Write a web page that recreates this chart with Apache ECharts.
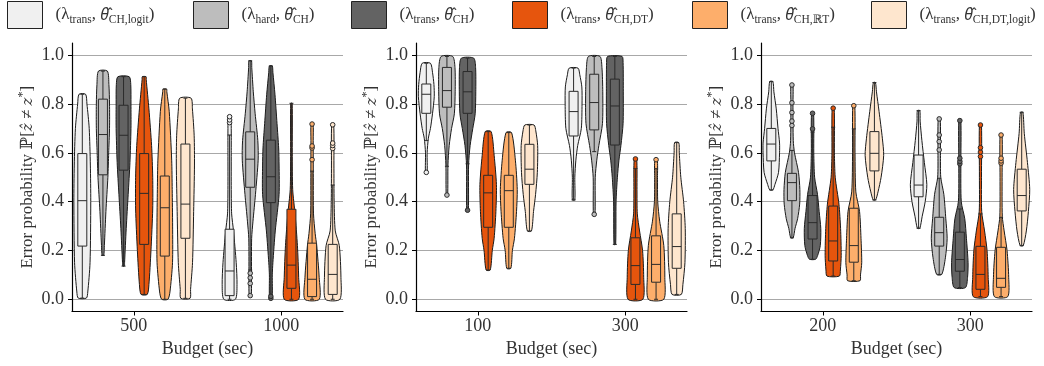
<!DOCTYPE html>
<html>
<head>
<meta charset="utf-8">
<script src="https://cdn.jsdelivr.net/npm/echarts@6/dist/echarts.min.js"></script>
<style>html,body{margin:0;padding:0;background:#fff}#chart{width:1044px;height:366px}</style>
</head>
<body>
<div id="chart"></div>
<script>
// methods, legend order
var names = ['trans|CH,logit', 'hard|CH', 'trans|CH', 'trans|CH,DT', 'trans|CH,ℝT', 'trans|CH,DT,logit'];
var colors = ['#f0f0f0', '#bdbdbd', '#636363', '#e6550d', '#fdae6b', '#fee6ce'];

// panel 1 : budgets 500 / 1000
var ticks1 = ['500', '1000'];
// [whisker low, q1, median, q3, whisker high]
var stats1 = [
  [[0.005,0.218,0.404,0.597,0.84],[0.18,0.51,0.675,0.82,0.935],[0.136,0.529,0.672,0.795,0.912],
   [0.02,0.225,0.434,0.597,0.912],[0.0,0.177,0.375,0.505,0.861],[0.004,0.25,0.39,0.636,0.824]],
  [[0.0,0.015,0.116,0.287,0.673],[0.12,0.459,0.574,0.686,0.977],[0.02,0.396,0.502,0.652,0.956],
   [0.0,0.045,0.14,0.369,0.803],[0.0,0.011,0.082,0.23,0.525],[0.0,0.02,0.102,0.225,0.468]]
];
var outliers1 = [
  [[],[],[],[],[],[]],
  [[0.724,0.735,0.748],[0.015,0.065,0.088,0.107],[0.004,0.012],[],[0.572,0.62,0.628,0.718],[0.618,0.63,0.64,0.715]]
];
// violin outline: [value, relative half width]
var shapes1 = [
  [[[0.005,0.4],[0.03,0.53],[0.15,0.75],[0.4,0.82],[0.55,0.78],[0.7,0.67],[0.8,0.45],[0.84,0.32]],
   [[0.18,0.08],[0.22,0.14],[0.36,0.29],[0.5,0.48],[0.6,0.56],[0.7,0.64],[0.8,0.64],[0.88,0.58],[0.935,0.43]],
   [[0.136,0.08],[0.15,0.1],[0.29,0.26],[0.43,0.45],[0.56,0.62],[0.7,0.72],[0.8,0.72],[0.88,0.7],[0.912,0.55]],
   [[0.02,0.3],[0.06,0.46],[0.2,0.66],[0.37,0.83],[0.5,0.83],[0.63,0.72],[0.78,0.46],[0.9,0.2],[0.912,0.18]],
   [[0.0,0.3],[0.03,0.5],[0.15,0.75],[0.3,0.76],[0.45,0.72],[0.57,0.67],[0.77,0.43],[0.85,0.2],[0.861,0.18]],
   [[0.004,0.45],[0.04,0.5],[0.15,0.69],[0.36,0.8],[0.55,0.88],[0.67,0.85],[0.78,0.68],[0.824,0.55]]],
  [[[0.0,0.56],[0.06,0.72],[0.15,0.64],[0.28,0.38],[0.35,0.2],[0.45,0.16],[0.6,0.16],[0.7,0.16],[0.75,0.12]],
   [[0.015,0.1],[0.1,0.12],[0.25,0.14],[0.32,0.27],[0.43,0.51],[0.57,0.77],[0.65,0.74],[0.76,0.48],[0.85,0.3],[0.95,0.15],[0.977,0.12]],
   [[0.004,0.12],[0.1,0.14],[0.15,0.2],[0.28,0.43],[0.43,0.8],[0.55,0.8],[0.62,0.76],[0.72,0.6],[0.84,0.4],[0.93,0.2],[0.956,0.14]],
   [[0.0,0.7],[0.09,0.7],[0.22,0.58],[0.35,0.35],[0.45,0.12],[0.6,0.08],[0.803,0.07]],
   [[0.0,0.7],[0.09,0.69],[0.22,0.45],[0.27,0.3],[0.35,0.14],[0.5,0.12],[0.65,0.11],[0.718,0.1]],
   [[0.0,0.7],[0.09,0.8],[0.22,0.64],[0.28,0.25],[0.4,0.14],[0.55,0.12],[0.715,0.1]]]
];

// panel 2 : budgets 100 / 300
var ticks2 = ['100', '300'];
var stats2 = [
  [[0.65,0.762,0.84,0.882,0.967],[0.545,0.787,0.855,0.95,0.995],[0.555,0.762,0.85,0.933,0.988],
   [0.12,0.295,0.436,0.508,0.687],[0.127,0.295,0.445,0.508,0.683],[0.28,0.471,0.533,0.635,0.714]],
  [[0.407,0.669,0.769,0.852,0.947],[0.605,0.694,0.806,0.922,0.995],[0.225,0.632,0.792,0.902,0.995],
   [0.0,0.061,0.138,0.252,0.535],[0.0,0.07,0.143,0.26,0.535],[0.02,0.127,0.216,0.35,0.642]]
];
var outliers2 = [
  [[0.52],[0.427],[0.365],[],[],[]],
  [[],[0.348],[],[0.575],[0.572],[]]
];
var shapes2 = [
  [[[0.52,0.08],[0.6,0.08],[0.66,0.2],[0.7,0.4],[0.76,0.6],[0.83,0.77],[0.88,0.74],[0.93,0.6],[0.967,0.4]],
   [[0.427,0.07],[0.55,0.1],[0.63,0.22],[0.7,0.45],[0.76,0.72],[0.85,0.8],[0.95,0.78],[0.995,0.56]],
   [[0.365,0.08],[0.55,0.1],[0.63,0.25],[0.7,0.51],[0.76,0.74],[0.85,0.8],[0.95,0.78],[0.988,0.6]],
   [[0.12,0.2],[0.2,0.4],[0.25,0.58],[0.36,0.75],[0.47,0.8],[0.59,0.58],[0.687,0.29]],
   [[0.127,0.2],[0.2,0.35],[0.25,0.55],[0.36,0.75],[0.45,0.82],[0.57,0.64],[0.683,0.27]],
   [[0.28,0.2],[0.36,0.4],[0.43,0.6],[0.52,0.77],[0.63,0.8],[0.69,0.62],[0.714,0.45]]],
  [[[0.407,0.12],[0.5,0.12],[0.57,0.22],[0.63,0.4],[0.7,0.75],[0.8,0.82],[0.87,0.8],[0.92,0.6],[0.947,0.43]],
   [[0.348,0.08],[0.5,0.1],[0.57,0.25],[0.63,0.45],[0.72,0.8],[0.85,0.83],[0.95,0.75],[0.995,0.56]],
   [[0.225,0.08],[0.4,0.12],[0.5,0.25],[0.57,0.4],[0.63,0.59],[0.72,0.8],[0.85,0.82],[0.97,0.8],[0.995,0.7]],
   [[0.0,0.72],[0.09,0.8],[0.2,0.69],[0.28,0.4],[0.35,0.18],[0.45,0.15],[0.575,0.12]],
   [[0.0,0.75],[0.09,0.85],[0.22,0.75],[0.32,0.35],[0.4,0.16],[0.5,0.14],[0.572,0.12]],
   [[0.02,0.45],[0.06,0.6],[0.15,0.8],[0.29,0.83],[0.4,0.67],[0.5,0.4],[0.6,0.25],[0.642,0.2]]]
];

// panel 3 : budgets 200 / 300
var ticks3 = ['200', '300'];
var stats3 = [
  [[0.448,0.567,0.636,0.7,0.892],[0.252,0.404,0.478,0.516,0.61],[0.164,0.247,0.314,0.425,0.685],
   [0.095,0.157,0.239,0.382,0.705],[0.076,0.152,0.22,0.373,0.698],[0.407,0.526,0.598,0.687,0.888]],
  [[0.291,0.42,0.468,0.591,0.773],[0.102,0.218,0.273,0.336,0.496],[0.048,0.115,0.163,0.275,0.37],
   [0.011,0.041,0.102,0.217,0.35],[0.011,0.049,0.086,0.213,0.336],[0.22,0.362,0.425,0.533,0.766]]
];
var outliers3 = [
  [[],[0.712,0.73,0.765,0.805,0.878],[0.698,0.762],[0.783],[0.793],[]],
  [[],[0.612,0.646,0.673,0.739],[0.555,0.565,0.578,0.732],[0.585,0.603,0.621,0.714],[0.558,0.567,0.578,0.673],[]]
];
var shapes3 = [
  [[[0.448,0.15],[0.47,0.35],[0.52,0.7],[0.6,0.8],[0.64,0.8],[0.7,0.65],[0.78,0.48],[0.85,0.25],[0.892,0.15]],
   [[0.252,0.12],[0.29,0.3],[0.33,0.55],[0.39,0.75],[0.45,0.77],[0.52,0.64],[0.6,0.25],[0.65,0.13],[0.8,0.1],[0.878,0.1]],
   [[0.164,0.3],[0.18,0.5],[0.22,0.75],[0.29,0.8],[0.36,0.64],[0.43,0.48],[0.5,0.2],[0.6,0.12],[0.762,0.1]],
   [[0.095,0.6],[0.12,0.7],[0.18,0.78],[0.29,0.72],[0.39,0.56],[0.5,0.2],[0.6,0.12],[0.783,0.1]],
   [[0.076,0.6],[0.1,0.65],[0.15,0.77],[0.25,0.7],[0.36,0.56],[0.44,0.2],[0.6,0.12],[0.793,0.1]],
   [[0.407,0.12],[0.44,0.35],[0.5,0.65],[0.59,0.9],[0.66,0.77],[0.77,0.45],[0.85,0.2],[0.888,0.1]]],
  [[[0.291,0.12],[0.34,0.35],[0.4,0.64],[0.47,0.8],[0.56,0.56],[0.65,0.32],[0.73,0.15],[0.773,0.12]],
   [[0.102,0.25],[0.17,0.6],[0.25,0.77],[0.33,0.64],[0.43,0.45],[0.5,0.15],[0.6,0.12],[0.739,0.1]],
   [[0.048,0.55],[0.09,0.75],[0.15,0.8],[0.25,0.64],[0.33,0.48],[0.4,0.14],[0.55,0.1],[0.732,0.1]],
   [[0.011,0.7],[0.09,0.75],[0.2,0.64],[0.28,0.4],[0.36,0.12],[0.5,0.1],[0.714,0.1]],
   [[0.011,0.65],[0.09,0.74],[0.2,0.58],[0.28,0.3],[0.34,0.12],[0.5,0.1],[0.673,0.1]],
   [[0.22,0.15],[0.28,0.45],[0.36,0.65],[0.45,0.78],[0.56,0.56],[0.68,0.25],[0.766,0.12]]]
];

var yTicks = [0, 0.2, 0.4, 0.6, 0.8, 1.0];

var panels = [
  {ticks: ticks1, stats: stats1, outs: outliers1, shapes: shapes1},
  {ticks: ticks2, stats: stats2, outs: outliers2, shapes: shapes2},
  {ticks: ticks3, stats: stats3, outs: outliers3, shapes: shapes3}
];

var FONT = '"Liberation Serif", "DejaVu Serif", serif';
var MATH = '"Noto Sans", "DejaVu Serif", serif';
var TXT = '#333';
var SLOT = 0.14;      // dodge step between violins (category units)
var HALF = 0.07;      // half width for relative width 1
var gridLeft = [72, 416, 761];
var legLeft = [7, 193, 351, 512, 692, 871];

var myChart = echarts.init(document.getElementById('chart'));

function makeRender(pn, m) {
  var off = (m - 2.5) * SLOT;
  return function (params, api) {
    var g = params.dataIndex;
    var cx = api.value(0) + off;
    var st = pn.stats[g][m], sh = pn.shapes[g][m], ou = pn.outs[g][m];
    var right = [], left = [];
    sh.forEach(function (p) {
      right.push(api.coord([cx + p[1] * HALF, p[0]]));
      left.unshift(api.coord([cx - p[1] * HALF, p[0]]));
    });
    var c = api.coord([cx, 0])[0];
    var y = function (v) { return api.coord([cx, v])[1]; };
    var ln = {stroke: '#2a2a2a', lineWidth: 1};
    var kids = [
      {type: 'polygon', shape: {points: right.concat(left), smooth: 0.25},
        style: {fill: colors[m], stroke: '#1a1a1a', lineWidth: 1}},
      {type: 'line', shape: {x1: c, y1: y(st[0]), x2: c, y2: y(st[1])}, style: ln},
      {type: 'line', shape: {x1: c, y1: y(st[3]), x2: c, y2: y(st[4])}, style: ln},
      {type: 'line', shape: {x1: c - 2, y1: y(st[0]), x2: c + 2, y2: y(st[0])}, style: ln},
      {type: 'line', shape: {x1: c - 2, y1: y(st[4]), x2: c + 2, y2: y(st[4])}, style: ln},
      {type: 'rect', shape: {x: c - 4.5, y: y(st[3]), width: 9, height: y(st[1]) - y(st[3])},
        style: {fill: colors[m], stroke: '#2a2a2a', lineWidth: 1}},
      {type: 'line', shape: {x1: c - 4.5, y1: y(st[2]), x2: c + 4.5, y2: y(st[2])}, style: ln}
    ];
    ou.forEach(function (v) {
      kids.push({type: 'circle', shape: {cx: c, cy: y(v), r: 2.3},
        style: {fill: colors[m], stroke: '#2a2a2a', lineWidth: 1}});
    });
    return {type: 'group', children: kids};
  };
}

function legendText(name) {
  var s = name.split('|');
  return '{p|(λ}{s|' + s[0] + '}{a|, }{t|θ̂}{s|' + s[1] + '}{a|)}';
}

var option = {
  animation: false,
  color: colors,
  grid: gridLeft.map(function (l) { return {left: l, top: 43, width: 271, height: 268.5}; }),
  legend: names.map(function (n, i) {
    return {
      left: legLeft[i], top: 1, padding: 0, itemWidth: 35, itemHeight: 27, icon: 'rect',
      data: [n], selectedMode: false,
      itemStyle: {borderColor: '#222', borderWidth: 1},
      formatter: legendText,
      textStyle: {
        color: TXT, fontFamily: FONT,
        rich: {
          p: {fontSize: 17, fontFamily: FONT, color: TXT, lineHeight: 22, padding: [0, 0, 0, 8]},
          a: {fontSize: 17, fontFamily: FONT, color: TXT, lineHeight: 22},
          t: {fontSize: 16, fontFamily: MATH, fontStyle: 'italic', color: TXT, lineHeight: 22},
          s: {fontSize: 11.5, fontFamily: FONT, color: TXT, lineHeight: 13, verticalAlign: 'bottom'}
        }
      }
    };
  }),
  xAxis: panels.map(function (pn, i) {
    return {
      type: 'value', gridIndex: i, min: -0.42, max: 1.42,
      axisLine: {onZero: false, lineStyle: {color: '#000', width: 1.2}},
      axisTick: {customValues: [0, 1], length: 4, lineStyle: {color: '#000'}},
      axisLabel: {customValues: [0, 1], formatter: function (v) { return pn.ticks[Math.round(v)]; },
        fontFamily: FONT, fontSize: 18, color: TXT, margin: 6},
      splitLine: {show: false},
      name: 'Budget (sec)', nameLocation: 'middle', nameGap: 25,
      nameTextStyle: {fontFamily: FONT, fontSize: 18, color: TXT}
    };
  }),
  yAxis: panels.map(function (pn, i) {
    return {
      type: 'value', gridIndex: i, min: -0.05, max: 1.05,
      axisLine: {show: true, onZero: false, lineStyle: {color: '#000', width: 1.2}},
      axisTick: {show: true, customValues: yTicks, length: 4, lineStyle: {color: '#000'}},
      axisLabel: {customValues: yTicks, formatter: function (v) { return v.toFixed(1); },
        fontFamily: FONT, fontSize: 18, color: TXT, margin: 8},
      splitLine: {show: true, lineStyle: {color: '#a8a8a8', width: 1.2}},
      name: '{n|Error probability ℙ[}{i|ẑ}{n| ≠ }{i|z}{u|*}{n|]}',
      nameLocation: 'middle', nameGap: 33,
      nameTextStyle: {
        fontFamily: FONT, fontSize: 17, color: TXT,
        rich: {
          n: {fontFamily: FONT, fontSize: 17, color: TXT, lineHeight: 22},
          i: {fontFamily: '"DejaVu Serif", serif', fontSize: 15, color: TXT, lineHeight: 22, fontStyle: 'italic'},
          u: {fontFamily: FONT, fontSize: 12, color: TXT, lineHeight: 12, verticalAlign: 'top'}
        }
      }
    };
  }),
  series: []
};

panels.forEach(function (pn, p) {
  names.forEach(function (n, m) {
    option.series.push({
      type: 'custom', name: n, xAxisIndex: p, yAxisIndex: p,
      itemStyle: {color: colors[m]},
      renderItem: makeRender(pn, m),
      encode: {x: 0, y: [1, 2]},
      data: pn.stats.map(function (g, k) { return [k, g[m][0], g[m][4]]; })
    });
  });
});

myChart.setOption(option);
</script>
</body>
</html>
